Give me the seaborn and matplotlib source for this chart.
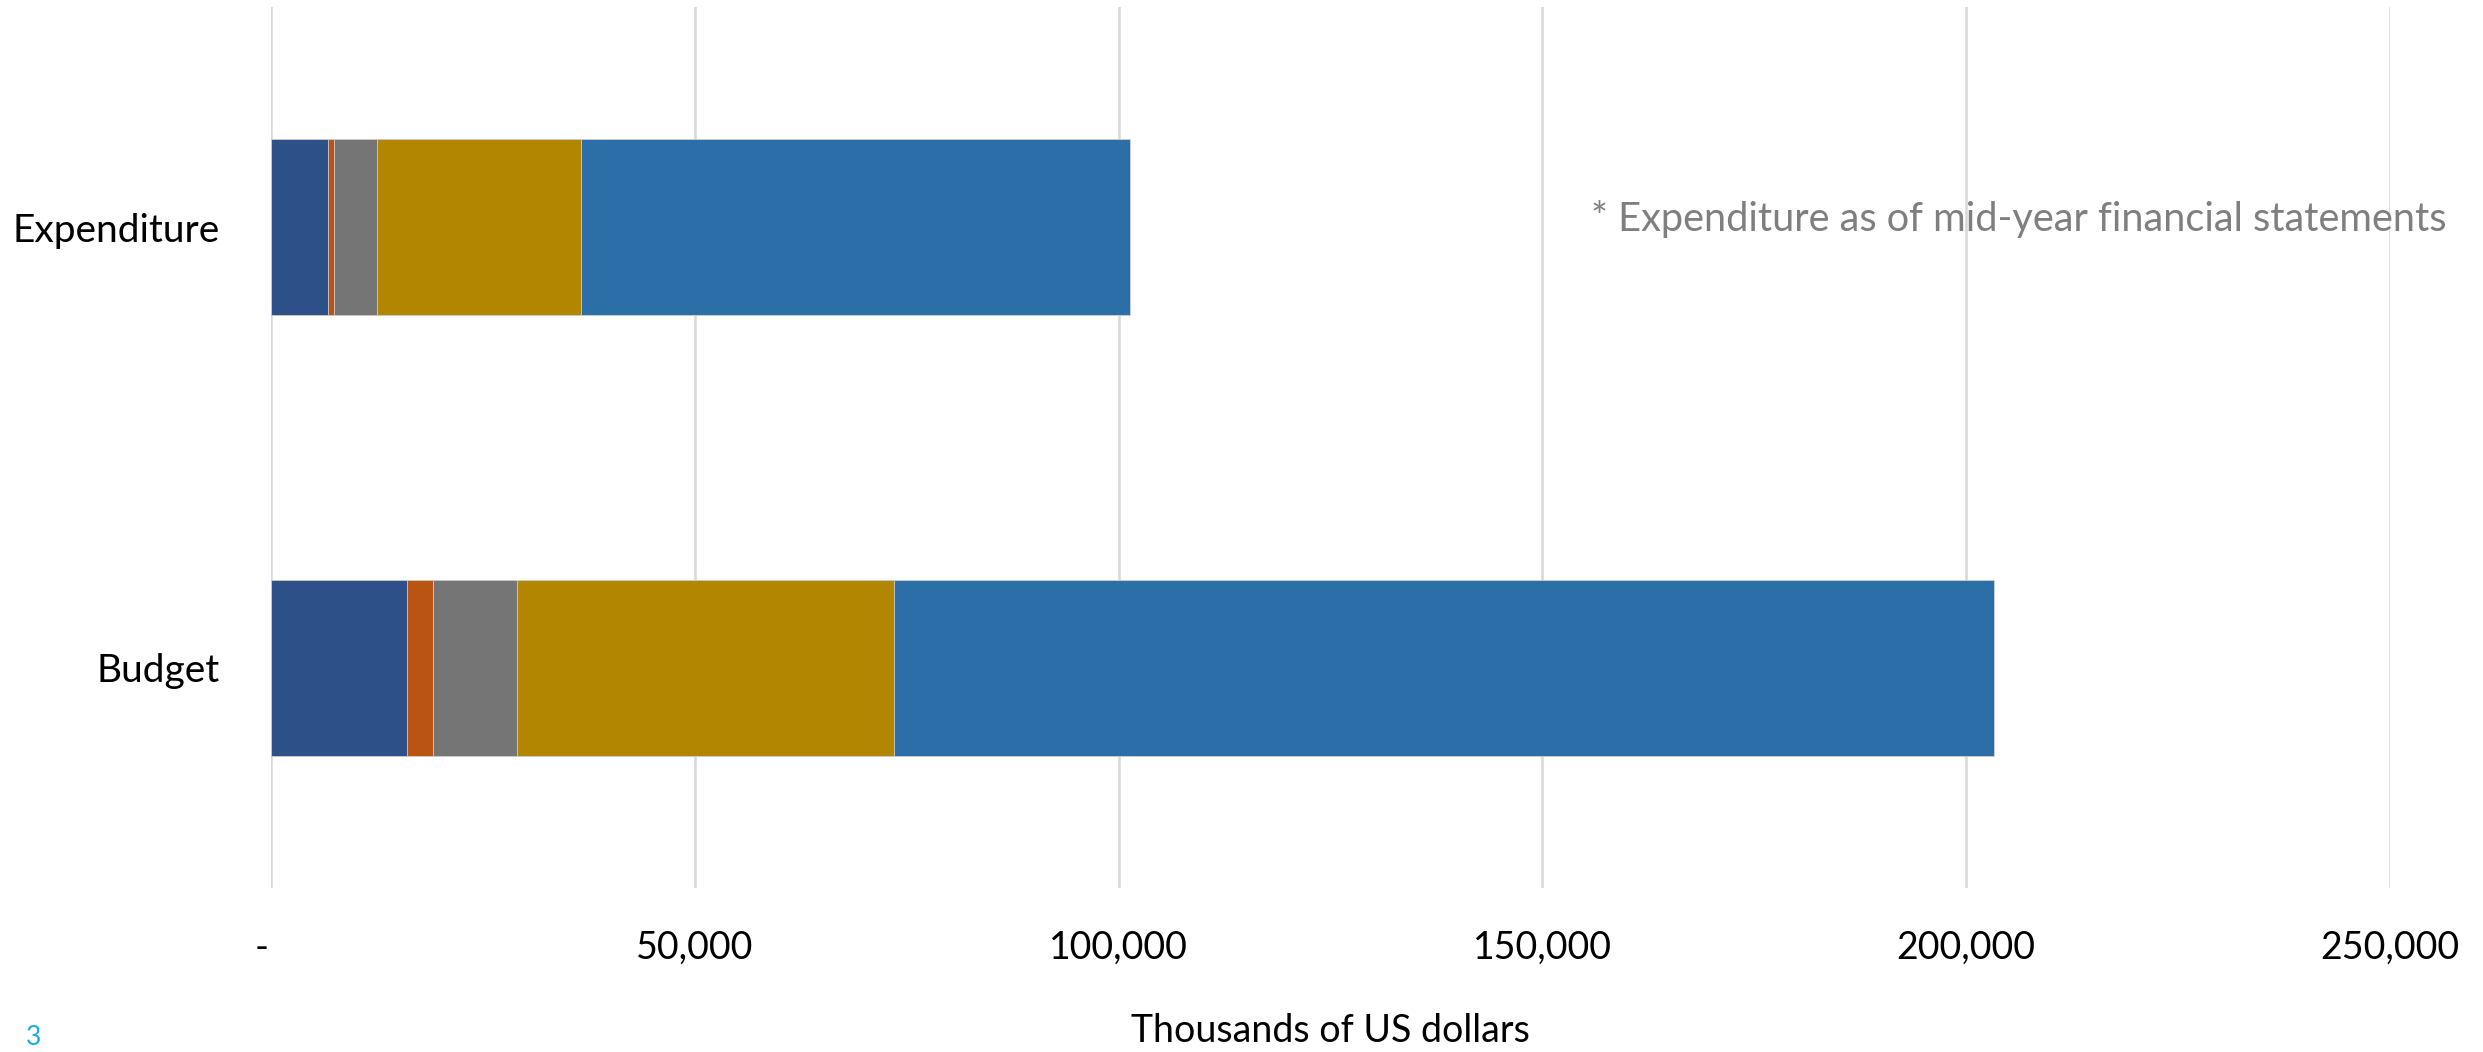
import seaborn as sns
from matplotlib import pyplot as plt
from matplotlib.ticker import FuncFormatter
import pandas as pd
import numpy as np

# values in thousands of US dollars
categories = ["Expenditure", "Budget"]
segment_1 = [6700, 16000]
segment_2 = [670, 3050]
segment_3 = [5100, 9900]
segment_4 = [24100, 44500]
segment_5 = [64700, 129800]
segments = [segment_1, segment_2, segment_3, segment_4, segment_5]
colors = ["#2E5089", "#BA5413", "#757575", "#B28600", "#2C6EA8"]
x_ticks = [0, 50000, 100000, 150000, 200000, 250000]

sns.set_theme(style="white")
plt.rcParams["font.family"] = ["Lato", "DejaVu Sans"]

fig = plt.figure(figsize=(24.83, 10.52), dpi=100)
ax = fig.add_axes([0.1093, 0.1559, 0.8532, 0.8374])

cumulative = np.cumsum(np.array(segments), axis=0)
# draw longest stack first so the shorter ones sit on top
for i in reversed(range(len(segments))):
    df = pd.DataFrame({"category": categories, "value": cumulative[i]})
    sns.barplot(
        data=df,
        x="value",
        y="category",
        orient="h",
        color=colors[i],
        saturation=1,
        width=0.4,
        edgecolor="#d0d0d0",
        linewidth=0.6,
        ax=ax,
        zorder=2,
    )

ax.set_xlim(0, 250000)
ax.set_ylim(1.5, -0.5)
ax.set_xticks(x_ticks)
ax.xaxis.set_major_formatter(FuncFormatter(lambda v, p: "-  " if v == 0 else f"{v:,.0f}"))
ax.grid(axis="x", color="#D9D9D9", linewidth=1.9, zorder=0)
ax.set_axisbelow(True)
for s in ax.spines.values():
    s.set_visible(False)
ax.tick_params(axis="x", length=0, pad=30, labelsize=27, labelcolor="black")
ax.tick_params(axis="y", length=0, pad=37, labelsize=28, labelcolor="black")
ax.set_ylabel("")
ax.set_xlabel("Thousands of US dollars", fontsize=27, color="black", labelpad=34)

fig.text(0.6408, 0.792, "* Expenditure as of mid-year financial statements",
         fontsize=28.6, color="#7F7F7F", ha="left", va="center")
fig.text(0.0105, 0.002, "3", fontsize=19, color="#1AADE4", ha="left", va="bottom")

fig.savefig("out.png", dpi=100)
